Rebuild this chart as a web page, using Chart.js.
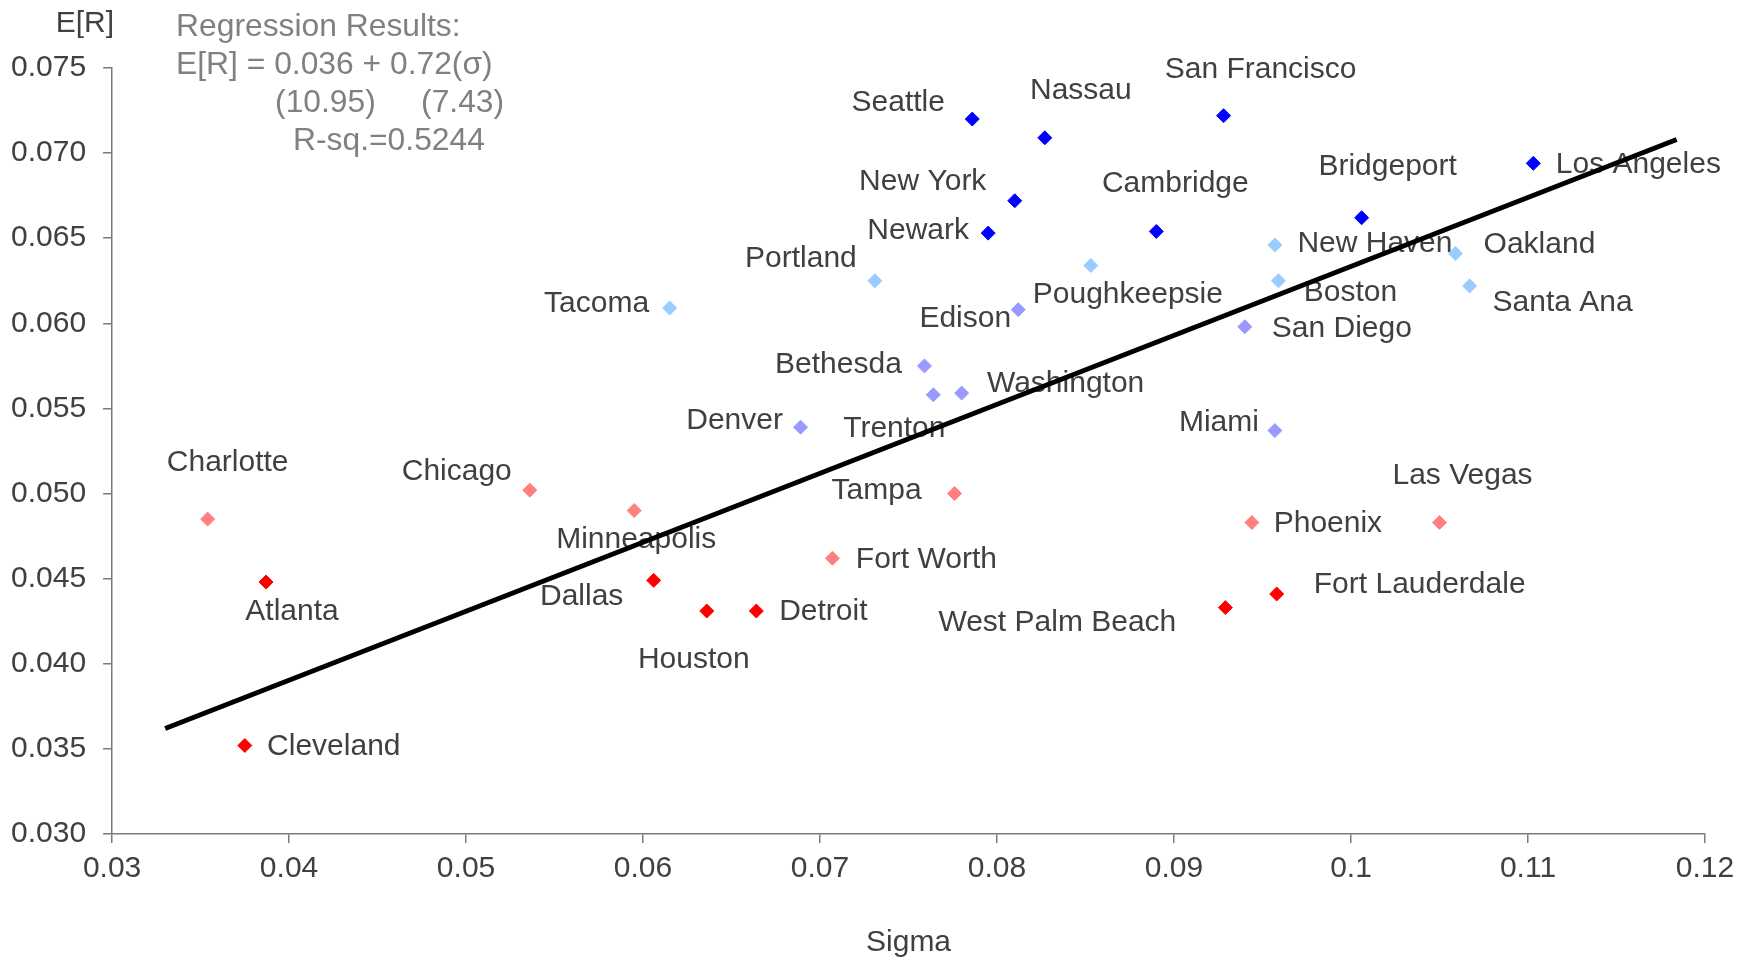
<!DOCTYPE html>
<html>
<head>
<meta charset="utf-8">
<script src="https://cdn.jsdelivr.net/npm/chart.js@4.4.1/dist/chart.umd.min.js"></script>
<style>
  html, body { margin: 0; padding: 0; background: #ffffff; }
  canvas { display: block; }
</style>
</head>
<body>
<canvas id="chart" width="1753" height="958"></canvas>
<script>
// Metro areas grouped into five tiers; sigma = risk, E[R] = expected return
const tier1Cities = ['Seattle', 'Nassau', 'San Francisco', 'Los Angeles', 'New York', 'Bridgeport', 'Newark', 'Cambridge'];
const tier1Sigma  = [0.0786, 0.0827, 0.0928, 0.1103, 0.0810, 0.1006, 0.0795, 0.0890];
const tier1Return = [0.0720, 0.0709, 0.0722, 0.0694, 0.0672, 0.0662, 0.0653, 0.0654];

const tier2Cities = ['New Haven', 'Oakland', 'Portland', 'Poughkeepsie', 'Boston', 'Santa Ana', 'Tacoma'];
const tier2Sigma  = [0.0957, 0.1059, 0.0731, 0.0853, 0.0959, 0.1067, 0.0615];
const tier2Return = [0.0646, 0.0641, 0.0625, 0.0634, 0.0625, 0.0622, 0.0609];

const tier3Cities = ['Edison', 'San Diego', 'Bethesda', 'Trenton', 'Washington', 'Denver', 'Miami'];
const tier3Sigma  = [0.0812, 0.0940, 0.0759, 0.0764, 0.0780, 0.0689, 0.0957];
const tier3Return = [0.0608, 0.0598, 0.0575, 0.0558, 0.0559, 0.0539, 0.0537];

const tier4Cities = ['Charlotte', 'Chicago', 'Minneapolis', 'Tampa', 'Phoenix', 'Las Vegas', 'Fort Worth'];
const tier4Sigma  = [0.0354, 0.0536, 0.0595, 0.0776, 0.0944, 0.1050, 0.0707];
const tier4Return = [0.0485, 0.0502, 0.0490, 0.0500, 0.0483, 0.0483, 0.0462];

const tier5Cities = ['Atlanta', 'Dallas', 'Houston', 'Detroit', 'West Palm Beach', 'Fort Lauderdale', 'Cleveland'];
const tier5Sigma  = [0.0387, 0.0606, 0.0636, 0.0664, 0.0929, 0.0958, 0.0375];
const tier5Return = [0.0448, 0.0449, 0.0431, 0.0431, 0.0433, 0.0441, 0.0352];

// Fitted regression line endpoints
const trendSigma  = [0.0330, 0.1184];
const trendReturn = [0.0362, 0.0708];

// Axis ticks
const xTickValues = [0.03, 0.04, 0.05, 0.06, 0.07, 0.08, 0.09, 0.10, 0.11, 0.12];
const xTickLabels = ['0.03', '0.04', '0.05', '0.06', '0.07', '0.08', '0.09', '0.1', '0.11', '0.12'];
const yTickValues = [0.030, 0.035, 0.040, 0.045, 0.050, 0.055, 0.060, 0.065, 0.070, 0.075];
const yTickLabels = ['0.030', '0.035', '0.040', '0.045', '0.050', '0.055', '0.060', '0.065', '0.070', '0.075'];

// Regression summary text
const regressionLines = ['Regression Results:', 'E[R] = 0.036 + 0.72(\u03c3)'];
const tStats = ['(10.95)', '(7.43)'];
const rSquared = 'R-sq.=0.5244';

const FONT = '"Liberation Sans", Arial, Helvetica, sans-serif';
const TEXT_DARK = '#404040';
const TEXT_GRAY = '#808080';
const AXIS_GRAY = '#7a7a7a';

function points(names, xs, ys) {
  return names.map((n, i) => ({ x: xs[i], y: ys[i], name: n }));
}

function tierDataset(names, xs, ys, color) {
  return {
    type: 'scatter',
    data: points(names, xs, ys),
    pointStyle: 'rectRot',
    pointRadius: 7,
    pointBorderWidth: 1,
    backgroundColor: color,
    borderColor: color,
    pointHoverRadius: 7
  };
}

// Label placement around each marker (pixel offsets of the text centre)
const labelOffsets = {
  'Seattle': [-74, -16], 'Nassau': [36, -47], 'San Francisco': [37, -46], 'Los Angeles': [105, 1],
  'New York': [-92, -19], 'Bridgeport': [26, -51], 'Newark': [-70, -2], 'Cambridge': [19, -48],
  'New Haven': [100, -1], 'Oakland': [84, -9], 'Portland': [-74, -22], 'Poughkeepsie': [37, 29],
  'Boston': [72, 12], 'Santa Ana': [93, 17], 'Tacoma': [-73, -4],
  'Edison': [-53, 9], 'San Diego': [97, 2], 'Bethesda': [-86, -1], 'Trenton': [-39, 34],
  'Washington': [104, -9], 'Denver': [-66, -6], 'Miami': [-56, -8],
  'Charlotte': [20, -56], 'Chicago': [-73, -18], 'Minneapolis': [2, 29], 'Tampa': [-78, -3],
  'Phoenix': [76, 1], 'Las Vegas': [23, -47], 'Fort Worth': [94, 1],
  'Atlanta': [26, 30], 'Dallas': [-72, 16], 'Houston': [-13, 49], 'Detroit': [67, 1],
  'West Palm Beach': [-168, 15], 'Fort Lauderdale': [143, -9], 'Cleveland': [89, 1]
};

const cityLabels = {
  id: 'cityLabels',
  beforeDatasetsDraw(chart) {
    const ctx = chart.ctx;
    ctx.save();
    ctx.font = '30px ' + FONT;
    ctx.fillStyle = TEXT_DARK;
    ctx.textAlign = 'center';
    ctx.textBaseline = 'middle';
    chart.data.datasets.forEach((ds, di) => {
      if (ds.type !== 'scatter') return;
      const meta = chart.getDatasetMeta(di);
      meta.data.forEach((el, i) => {
        const name = ds.data[i].name;
        const off = labelOffsets[name] || [0, -30];
        ctx.fillText(name, el.x + off[0], el.y + off[1]);
      });
    });
    ctx.restore();
  }
};

const annotations = {
  id: 'annotations',
  afterDraw(chart) {
    const ctx = chart.ctx;
    const area = chart.chartArea;
    ctx.save();
    ctx.textBaseline = 'middle';
    // vertical axis caption
    ctx.font = '30px ' + FONT;
    ctx.fillStyle = TEXT_DARK;
    ctx.textAlign = 'right';
    ctx.fillText('E[R]', area.left + 2, 24);
    // regression summary block
    ctx.font = '31.8px ' + FONT;
    ctx.fillStyle = TEXT_GRAY;
    ctx.textAlign = 'left';
    const x0 = area.left + 64;
    ctx.fillText(regressionLines[0], x0, 27);
    ctx.fillText(regressionLines[1], x0, 65, 318);
    ctx.fillText(tStats[0], x0 + 99, 103);
    ctx.fillText(tStats[1], x0 + 245, 103);
    ctx.fillText(rSquared, x0 + 117, 141);
    ctx.restore();
  }
};

new Chart(document.getElementById('chart'), {
  type: 'scatter',
  data: {
    datasets: [
      tierDataset(tier1Cities, tier1Sigma, tier1Return, '#0000ff'),
      tierDataset(tier2Cities, tier2Sigma, tier2Return, '#99ccff'),
      tierDataset(tier3Cities, tier3Sigma, tier3Return, '#9999ff'),
      tierDataset(tier4Cities, tier4Sigma, tier4Return, '#ff8080'),
      tierDataset(tier5Cities, tier5Sigma, tier5Return, '#ff0000'),
      {
        type: 'line',
        data: trendSigma.map((s, i) => ({ x: s, y: trendReturn[i] })),
        borderColor: '#000000',
        borderWidth: 5,
        pointRadius: 0,
        fill: false,
        tension: 0
      }
    ]
  },
  options: {
    responsive: false,
    animation: false,
    devicePixelRatio: 1,
    layout: { padding: { left: -6, right: 48, top: 68, bottom: -3 } },
    plugins: {
      legend: { display: false },
      tooltip: { enabled: false }
    },
    scales: {
      x: {
        type: 'linear',
        min: 0.03,
        max: 0.12,
        afterBuildTicks: (scale) => { scale.ticks = xTickValues.map(v => ({ value: v })); },
        ticks: {
          callback: (v, i) => xTickLabels[i],
          font: { family: FONT, size: 30 },
          color: TEXT_DARK,
          padding: 8,
          maxRotation: 0,
          autoSkip: false
        },
        grid: { drawOnChartArea: false, drawTicks: true, tickLength: 9, color: AXIS_GRAY, lineWidth: 1.5 },
        border: { display: true, color: AXIS_GRAY, width: 1.5 },
        title: {
          display: true,
          text: 'Sigma',
          font: { family: FONT, size: 30 },
          color: TEXT_DARK,
          padding: { top: 30, bottom: 0 }
        }
      },
      y: {
        type: 'linear',
        min: 0.030,
        max: 0.075,
        afterBuildTicks: (scale) => { scale.ticks = yTickValues.map(v => ({ value: v })); },
        ticks: {
          callback: (v, i) => yTickLabels[i],
          font: { family: FONT, size: 30 },
          color: TEXT_DARK,
          padding: 17,
          autoSkip: false
        },
        grid: { drawOnChartArea: false, drawTicks: true, tickLength: 9, color: AXIS_GRAY, lineWidth: 1.5 },
        border: { display: true, color: AXIS_GRAY, width: 1.5 }
      }
    }
  },
  plugins: [cityLabels, annotations]
});
</script>
</body>
</html>
